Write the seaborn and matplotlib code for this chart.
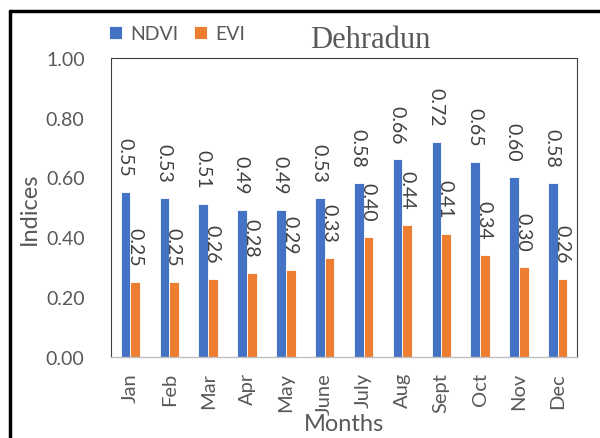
import pandas as pd
import matplotlib.pyplot as plt
import seaborn as sns
from matplotlib.lines import Line2D

months = ['Jan', 'Feb', 'Mar', 'Apr', 'May', 'June', 'July', 'Aug', 'Sept', 'Oct', 'Nov', 'Dec']
ndvi = [0.55, 0.53, 0.51, 0.49, 0.49, 0.53, 0.58, 0.66, 0.72, 0.65, 0.60, 0.58]
evi = [0.25, 0.25, 0.26, 0.28, 0.29, 0.33, 0.40, 0.44, 0.41, 0.34, 0.30, 0.26]

df = pd.DataFrame({'Month': months * 2,
                   'Value': ndvi + evi,
                   'Index': ['NDVI'] * len(months) + ['EVI'] * len(months)})

sns.set_style('white')
plt.rcParams['font.family'] = ['Lato', 'DejaVu Sans']
gray = '#595959'

fig = plt.figure(figsize=(6, 4.39), dpi=100)
ax = fig.add_axes([0.185, 0.185, 0.777, 0.681])

sns.barplot(data=df, x='Month', y='Value', hue='Index', order=months,
            palette={'NDVI': '#4472C4', 'EVI': '#ED7D31'}, width=0.5,
            saturation=1, edgecolor='white', linewidth=0.6, ax=ax)

# etiketler
for cont in ax.containers:
    for bar in cont:
        h = bar.get_height()
        ax.text(bar.get_x() + bar.get_width() / 2 - 0.02, h + 0.055, f'{h:.2f}',
                rotation=270, ha='center', va='bottom', fontsize=14,
                color='#404040')

ax.set_ylim(0, 1.0)
yt = [0, 0.2, 0.4, 0.6, 0.8, 1.0]
ax.set_yticks(yt)
ax.set_yticklabels([f'{v:.2f}' for v in yt], fontsize=14, color=gray)
ax.set_xlim(-0.5, 11.5)
ax.tick_params(axis='x', labelrotation=90, labelsize=14.5, labelcolor=gray, length=0, pad=11)
ax.tick_params(axis='y', length=0, pad=19)
ax.set_xlabel('')
ax.set_ylabel('Indices', fontsize=17, color=gray, labelpad=4)

for s in ['left', 'top', 'right']:
    ax.spines[s].set_color('#404040')
    ax.spines[s].set_linewidth(0.8)
ax.spines['bottom'].set_color('#BFBFBF')
ax.spines['bottom'].set_linewidth(1.0)

ax.legend(loc='center left', bbox_to_anchor=(-0.005, 1.08), ncol=2, frameon=False,
          fontsize=14, labelcolor=gray, handlelength=0.7, handleheight=0.7,
          handletextpad=0.4, columnspacing=0.8, borderaxespad=0.0, borderpad=0.0)

fig.text(344 / 600, 1 - 425 / 439, 'Months', fontsize=17, color=gray,
         ha='center', va='center')
fig.text(370 / 600, 1 - 40 / 439, 'Dehradun', fontsize=22, family='Liberation Serif',
         color=gray, ha='center', va='center')

# dış çerçeve
x0, y0 = 10 / 600, 1 - 12 / 439
fig.add_artist(Line2D([x0, x0], [0, y0], transform=fig.transFigure, color='black', lw=2.5))
fig.add_artist(Line2D([x0, 1], [y0, y0], transform=fig.transFigure, color='black', lw=2.5))

fig.savefig('out.png', dpi=100)
